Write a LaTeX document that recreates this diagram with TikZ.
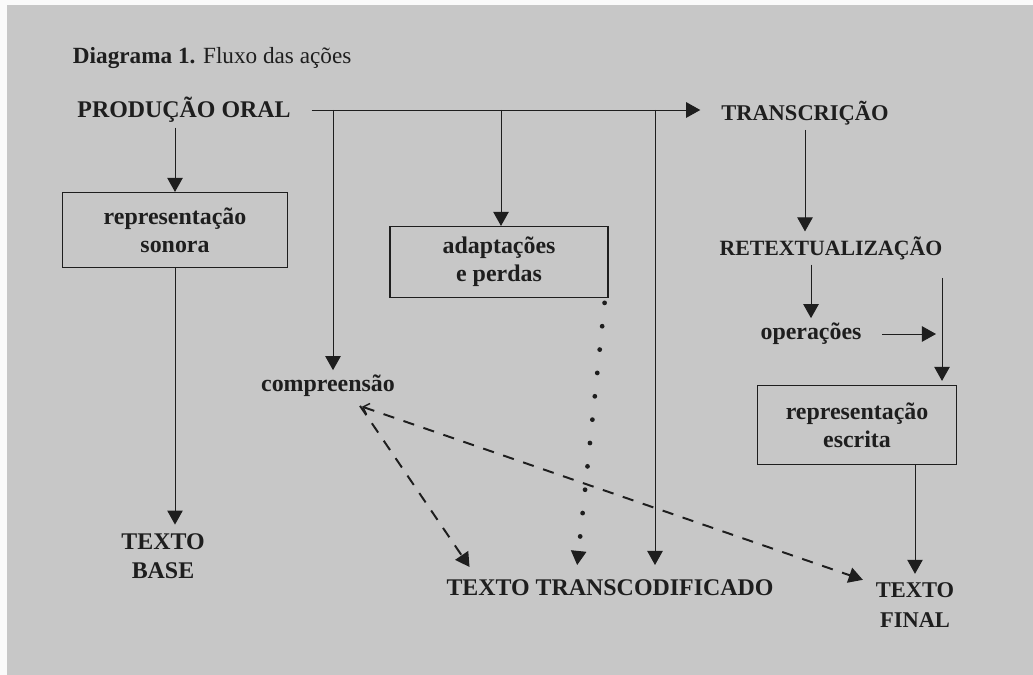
\documentclass[tikz,border=0pt]{standalone}
\usepackage{fontspec}
\setmainfont{Liberation Serif}
\usetikzlibrary{arrows.meta,positioning}
\definecolor{paper}{RGB}{199,199,199}
\definecolor{ink}{RGB}{30,30,30}
\tikzstyle{block} = [draw=ink, rectangle, line width=0.8pt, text=ink, align=center, font=\fontsize{17}{20}\selectfont\bfseries]
\tikzstyle{caps} = [text=ink, align=center, font=\fontsize{17}{20.5}\selectfont\bfseries]
\tikzstyle{word} = [text=ink, font=\fontsize{17}{19}\selectfont\bfseries]
\tikzstyle{flow} = [draw=ink, line width=0.7pt, -{Triangle[length=10pt,width=11pt]}]
\tikzstyle{dashflow} = [draw=ink, line width=1.4pt, dash pattern=on 8pt off 7pt, -{Triangle[length=10pt,width=11pt]}]
\tikzstyle{dotflow} = [draw=ink, line width=3.4pt, line cap=round, dash pattern=on 0pt off 16.7pt, -{Triangle[length=10pt,width=11pt,line width=0.7pt]}]

\begin{document}
\begin{tikzpicture}[x=0.025cm, y=-0.025cm]
        % page
        \useasboundingbox (0,0) rectangle (1033,675);
        \fill[white!92!paper] (0,0) rectangle (1033,675);
        \fill[paper] (7,5) rectangle (1033,675);

        \node [text=ink, anchor=west, font=\fontsize{16.5}{19}\selectfont] (title) at (68,58) {
            \textbf{Diagrama 1.} Fluxo das ações
        };

        % left column
        \node [caps] (oral) at (184,110) {PRODUÇÃO ORAL};
        \node [block, minimum width=5.625cm, minimum height=1.875cm] (sonora) at (175,230) {
            representação\\sonora
        };
        \node [caps] (base) at (163,556) {TEXTO\\BASE};

        % middle
        \node [block, minimum width=5.45cm, minimum height=1.775cm] (adapt) at (499,262) {
            adaptações\\e perdas
        };
        \node [word] (compr) at (328,386) {compreensão};
        \node [caps] (tcod) at (610,588) {TEXTO TRANSCODIFICADO};

        % right column
        \node [caps, font=\fontsize{16}{20}\selectfont\bfseries] (transc) at (805,113) {TRANSCRIÇÃO};
        \node [caps, font=\fontsize{15.5}{20}\selectfont\bfseries] (retext) at (831,248) {RETEXTUALIZAÇÃO};
        \node [word] (oper) at (811,334) {operações};
        \node [block, minimum width=4.975cm, minimum height=1.975cm] (escrita) at (857,425) {
            representação\\escrita
        };
        \node [caps, font=\fontsize{16}{21}\selectfont\bfseries] (final) at (915,605) {TEXTO\\FINAL};

        \coordinate (br1) at (333,110);
        \coordinate (br2) at (501,110);
        \coordinate (br3) at (655,110);
        \coordinate (rtop) at (942,278);

        % main line
        \draw[flow] ([xshift=0.4cm]oral.east) -- ([xshift=-0.4cm]transc.west |- br1);
        \draw[flow] (br1) -- (br1 |- compr.north);
        \draw[flow] (br2) -- (br2 |- adapt.north);
        \draw[flow] (br3) -- ([yshift=0.25cm]br3 |- tcod.north);

        \draw[flow] (sonora.north |- oral.south) -- (sonora.north);
        \draw[flow] (sonora.south) -- ([yshift=0.1cm]sonora.south |- base.north);

        \draw[dotflow] ([xshift=-0.1cm,yshift=-0.12cm]adapt.south east) -- ([xshift=-0.82cm,yshift=0.25cm]tcod.north);
        \draw[dashflow] ([xshift=0.8cm,yshift=-0.1cm]compr.south) -- ([xshift=0.7cm,yshift=0.2cm]tcod.north west);
        \draw[dashflow, {Straight Barb[length=4pt,width=8pt,line width=1pt]}-{Triangle[length=10pt,width=11pt]}] ([xshift=0.85cm,yshift=-0.12cm]compr.south) -- ([xshift=-0.2cm,yshift=-0.05cm]final.north west);

        \draw[flow] (transc.south) -- (transc.south |- retext.north);
        \draw[flow] (retext.south -| oper.north) -- (oper.north);
        \draw[flow] ([xshift=0.4cm]oper.east) -- ([xshift=-0.15cm]rtop |- oper.east);
        \draw[flow] (rtop) -- ([yshift=0.1cm]rtop |- escrita.north);
        \draw[flow] (escrita.south -| final) -- ([yshift=0.1cm]final.north);
    \end{tikzpicture}
\end{document}
